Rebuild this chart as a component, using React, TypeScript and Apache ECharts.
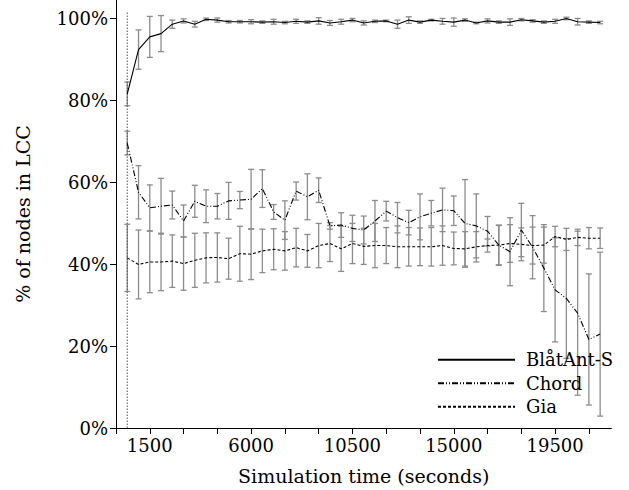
import React, { useEffect, useRef } from "react";
import * as echarts from "echarts";

const times = [
  500, 1000, 1500, 2000, 2500, 3000, 3500, 4000, 4500, 5000, 5500, 6000, 6500, 7000, 7500,
  8000, 8500, 9000, 9500, 10000, 10500, 11000, 11500, 12000, 12500, 13000, 13500, 14000,
  14500, 15000, 15500, 16000, 16500, 17000, 17500, 18000, 18500, 19000, 19500, 20000,
  20500, 21000, 21500,
];

const blatantMean = [
  81.5, 92.3, 95.4, 96.2, 98.5, 99.3, 98.5, 99.7, 99.5, 99.1, 99.1, 99.1, 99.0, 99.1, 98.9,
  99.2, 99.0, 99.3, 98.8, 99.1, 99.5, 98.8, 99.2, 99.3, 98.5, 99.5, 99.0, 99.5, 99.2, 99.0,
  99.5, 98.8, 99.3, 99.0, 99.0, 99.6, 99.3, 99.0, 99.2, 99.9, 99.1, 99.0, 98.9,
];
const blatantErr = [
  2.9, 4.8, 5.0, 4.4, 1.0, 0.5, 0.7, 0.3, 0.5, 0.3, 0.3, 0.5, 0.3, 0.6, 0.3, 0.5, 0.3, 0.8,
  0.6, 0.6, 0.4, 0.5, 0.3, 0.2, 1.0, 0.8, 0.3, 0.2, 0.7, 1.0, 0.3, 0.2, 0.5, 0.3, 0.8, 0.3,
  0.3, 0.3, 0.5, 0.3, 0.8, 0.3, 0.3,
];

const chordMean = [
  69.5, 57.5, 53.7, 54.1, 54.4, 50.5, 55.3, 54.1, 54.1, 55.4, 55.6, 55.8, 58.4, 52.7, 50.7,
  57.8, 56.4, 58.0, 49.3, 49.5, 48.7, 48.3, 50.5, 52.9, 51.3, 50.1, 51.5, 52.4, 53.2, 53.0,
  49.9, 49.3, 48.0, 44.6, 43.0, 48.3, 44.1, 39.0, 33.7, 31.6, 28.0, 21.6, 22.9,
];
const chordErr = [
  2.9, 6.5, 5.6, 6.8, 3.4, 3.9, 3.9, 4.0, 3.1, 4.5, 2.1, 7.3, 4.6, 1.8, 4.7, 2.2, 5.6, 3.0,
  0.8, 3.0, 3.2, 3.4, 5.0, 2.4, 3.7, 3.0, 5.6, 3.1, 5.3, 3.6, 10.7, 7.8, 3.6, 4.9, 8.3, 6.5,
  7.7, 10.6, 12.7, 14.6, 20.0, 16.0, 20.0,
];

const giaMean = [
  41.5, 39.9, 40.5, 40.5, 40.7, 40.1, 40.9, 41.5, 41.6, 41.3, 42.5, 42.4, 43.2, 43.6, 43.2,
  44.0, 43.2, 44.5, 45.0, 43.7, 45.0, 44.3, 44.5, 44.5, 44.2, 44.2, 44.2, 44.2, 44.5, 43.8,
  43.7, 44.2, 44.5, 44.6, 45.0, 44.8, 44.5, 44.6, 46.7, 46.0, 46.5, 46.3, 46.3,
];
const giaErr = [
  8.2, 8.4, 7.5, 7.0, 6.4, 6.5, 6.6, 6.1, 6.0, 5.0, 6.7, 6.2, 5.3, 5.0, 4.7, 4.7, 4.0, 5.4,
  4.4, 5.5, 4.9, 4.4, 5.4, 4.4, 5.1, 4.7, 4.6, 4.7, 4.8, 4.0, 4.2, 3.7, 1.6, 4.8, 4.6, 4.0,
  4.5, 4.4, 2.5, 2.7, 2.0, 2.6, 2.5,
];

const seriesNames = ["BlåtAnt-S", "Chord", "Gia"];
const xTickValues = [0, 1500, 3000, 4500, 6000, 7500, 9000, 10500, 12000, 13500, 15000, 16500, 18000, 19500, 21000];
const xLabelValues = [1500, 6000, 10500, 15000, 19500];
const yTickValues = [0, 20, 40, 60, 80, 100];
const warmupTime = 500;

const FONT = "DejaVu Serif";

function pairs(means: number[]) {
  return times.map((t, i) => [t, means[i]]);
}
function bars(means: number[], errs: number[]) {
  return times.map((t, i) => [t, means[i] - errs[i], means[i] + errs[i]]);
}

const renderErrorBar = (params: any, api: any) => {
  const x = api.value(0);
  const lo = api.coord([x, api.value(1)]);
  const hi = api.coord([x, api.value(2)]);
  const hw = 3;
  const style = { stroke: "#8c8c8c", lineWidth: 1.3 };
  return {
    type: "group",
    children: [
      { type: "line", shape: { x1: lo[0], y1: lo[1], x2: hi[0], y2: hi[1] }, style },
      { type: "line", shape: { x1: lo[0] - hw, y1: lo[1], x2: lo[0] + hw, y2: lo[1] }, style },
      { type: "line", shape: { x1: hi[0] - hw, y1: hi[1], x2: hi[0] + hw, y2: hi[1] }, style },
    ],
  };
};

export default function App() {
  const ref = useRef<HTMLDivElement>(null);
  useEffect(() => {
    if (!ref.current) return;
    const chart = echarts.init(ref.current, null, { renderer: "svg" });
    const errSeries = [
      { name: "err-b", data: bars(blatantMean, blatantErr) },
      { name: "err-c", data: bars(chordMean, chordErr) },
      { name: "err-g", data: bars(giaMean, giaErr) },
    ].map((s) => ({
      type: "custom",
      name: s.name,
      data: s.data,
      renderItem: renderErrorBar,
      encode: { x: 0, y: [1, 2] },
      clip: false,
      z: 1,
      silent: true,
    }));
    const txt = (size: number) => ({ fontFamily: FONT, fontSize: size, color: "#000", fontWeight: "normal" as const });
    chart.setOption({
      animation: false,
      backgroundColor: "#fff",
      textStyle: txt(18),
      grid: { left: 116, right: 17.6, top: 0, bottom: 62 },
      legend: {
        data: seriesNames,
        orient: "vertical",
        left: 437,
        top: 348,
        padding: 0,
        itemWidth: 77,
        itemHeight: 14,
        itemGap: 0,
        itemStyle: { opacity: 0 },
        textStyle: { ...txt(18), lineHeight: 23.5, padding: [0, 0, 0, 6] },
      },
      xAxis: {
        type: "value",
        min: 0,
        max: 22000,
        name: "Simulation time (seconds)",
        nameLocation: "middle",
        nameGap: 38,
        nameTextStyle: txt(19),
        axisLine: { lineStyle: { color: "#000", width: 1 } },
        axisTick: { show: true, length: 6, lineStyle: { color: "#000" }, customValues: xTickValues },
        axisLabel: {
          customValues: xLabelValues,
          formatter: (v: number) => String(v),
          ...txt(18),
          margin: 8,
        },
        splitLine: { show: false },
      },
      yAxis: {
        type: "value",
        min: 0,
        max: 104.4,
        name: "% of nodes in LCC",
        nameLocation: "middle",
        nameGap: 84,
        nameTextStyle: txt(19),
        axisLine: { show: true, lineStyle: { color: "#000", width: 1 } },
        axisTick: { show: true, length: 6, lineStyle: { color: "#000" }, customValues: yTickValues },
        axisLabel: {
          customValues: yTickValues,
          formatter: (v: number) => String(v) + "%",
          ...txt(18),
          margin: 8,
        },
        splitLine: { show: false },
      },
      series: [
        ...errSeries,
        {
          type: "line",
          name: "warmup",
          data: [[warmupTime, 0], [warmupTime, 101.5]],
          symbol: "none",
          lineStyle: { color: "#555", width: 1, type: [1.5, 1.5] },
          z: 2,
          silent: true,
        },
        {
          type: "line",
          name: seriesNames[0],
          data: pairs(blatantMean),
          symbol: "none",
          color: "#000",
          lineStyle: { color: "#000", width: 1.1, type: "solid" },
          z: 3,
        },
        {
          type: "line",
          name: seriesNames[1],
          data: pairs(chordMean),
          symbol: "none",
          color: "#000",
          lineStyle: { color: "#000", width: 1.1, type: [6, 2, 1, 2, 1, 2] },
          z: 3,
        },
        {
          type: "line",
          name: seriesNames[2],
          data: pairs(giaMean),
          symbol: "none",
          color: "#000",
          lineStyle: { color: "#000", width: 1.1, type: [3, 2] },
          z: 3,
        },
      ],
    });
    return () => chart.dispose();
  }, []);
  return <div ref={ref} style={{ position: "fixed", left: 0, top: 0, width: 629, height: 490 }} />;
}
